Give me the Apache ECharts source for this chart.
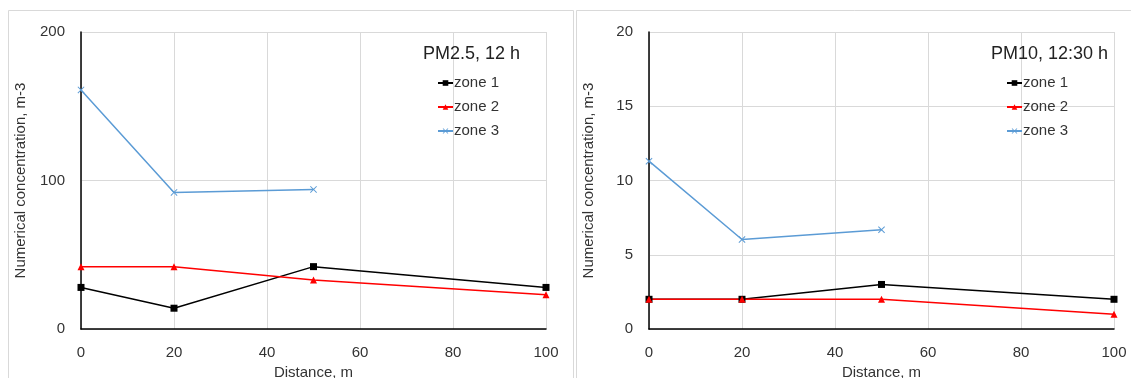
<!DOCTYPE html>
<html>
<head>
<meta charset="utf-8">
<script src="https://cdn.jsdelivr.net/npm/echarts@6/dist/echarts.min.js"></script>
<style>html,body{margin:0;padding:0;background:#fff;}#c{width:1131px;height:378px;}</style>
</head>
<body>
<div id="c"></div>
<script>
var distances = [0, 20, 50, 100];
var pm25Zone1 = [28, 14, 42, 28];
var pm25Zone2 = [42, 42, 33, 23];
var pm25Zone3 = [161, 92, 94];
var pm10Zone1 = [2, 2, 3, 2];
var pm10Zone2 = [2, 2, 2, 1];
var pm10Zone3 = [11.3, 6.03, 6.68];
var seriesNames = ['zone 1', 'zone 2', 'zone 3'];
var titles = ['PM2.5, 12 h', 'PM10, 12:30 h'];

var FONT = 'Liberation Sans, Arial, sans-serif';
var TXT = '#333';
var colors = ['#000000', '#ff0000', '#5b9bd5'];
var xSym = 'path://M0,1L1,0L5,4L9,0L10,1L6,5L10,9L9,10L5,6L1,10L0,9L4,5Z';
var symbols = ['rect', 'triangle', xSym];
var symSizes = [7, 7, 7];

function pairs(vals) { return vals.map(function (v, i) { return [distances[i], v]; }); }

var grids = [
  {left: 81, top: 32, width: 465, height: 297, outerBoundsMode: 'none', containLabel: false},
  {left: 649, top: 32, width: 465, height: 297, outerBoundsMode: 'none', containLabel: false}
];

function xAxis(gi) {
  return {
    type: 'value', gridIndex: gi, min: 0, max: 100, interval: 20,
    name: 'Distance, m', nameLocation: 'middle', nameGap: 32,
    nameTextStyle: {fontFamily: FONT, fontSize: 15, color: TXT},
    axisLine: {show: true, lineStyle: {color: '#000', width: 1.5}},
    axisTick: {show: false},
    axisLabel: {fontFamily: FONT, fontSize: 15, color: TXT, margin: 16},
    splitLine: {show: true, lineStyle: {color: '#d9d9d9', width: 1}}
  };
}
function yAxis(gi, max, interval) {
  return {
    type: 'value', gridIndex: gi, min: 0, max: max, interval: interval,
    name: 'Numerical concentration, m-3', nameLocation: 'middle', nameGap: 53,
    nameTextStyle: {fontFamily: FONT, fontSize: 15, color: TXT},
    axisLine: {show: true, lineStyle: {color: '#000', width: 1.5}},
    axisTick: {show: false},
    axisLabel: {fontFamily: FONT, fontSize: 15, color: TXT, margin: 16},
    splitLine: {show: true, lineStyle: {color: '#d9d9d9', width: 1}}
  };
}

var data = [[pm25Zone1, pm25Zone2, pm25Zone3], [pm10Zone1, pm10Zone2, pm10Zone3]];
var series = [];
for (var g = 0; g < 2; g++) {
  for (var s = 0; s < 3; s++) {
    series.push({
      type: 'line', name: seriesNames[s], xAxisIndex: g, yAxisIndex: g,
      data: pairs(data[g][s]),
      symbol: symbols[s], symbolSize: symSizes[s],
      showAllSymbol: true,
      lineStyle: {color: colors[s], width: 1.5},
      itemStyle: {color: colors[s]},
      emphasis: {disabled: true},
      animation: false
    });
  }
}

function legend(left, gi) {
  return {
    orient: 'vertical', left: left, top: 75, padding: 0,
    data: seriesNames,
    itemWidth: 15, itemHeight: 7, itemGap: 8,
    textStyle: {fontFamily: FONT, fontSize: 15, color: TXT, lineHeight: 16, padding: [0, 0, 0, -4]},
    selectedMode: false,
    seriesIndex: gi === 0 ? [0, 1, 2] : [3, 4, 5]
  };
}

var chart = echarts.init(document.getElementById('c'), null, {renderer: 'canvas'});
chart.setOption({
  animation: false,
  backgroundColor: '#fff',
  grid: grids,
  xAxis: [xAxis(0), xAxis(1)],
  yAxis: [yAxis(0, 200, 100), yAxis(1, 20, 5)],
  title: [
    {text: titles[0], left: 423, top: 45, padding: 0, textStyle: {fontFamily: FONT, fontSize: 18, fontWeight: 'normal', color: '#222'}},
    {text: titles[1], left: 991, top: 45, padding: 0, textStyle: {fontFamily: FONT, fontSize: 18, fontWeight: 'normal', color: '#222'}}
  ],
  legend: [legend(437, 0), legend(1006, 1)],
  graphic: [
    {type: 'rect', shape: {x: 8.5, y: 10.5, width: 565, height: 400}, style: {fill: 'none', stroke: '#d9d9d9', lineWidth: 1}, silent: true, z: -1},
    {type: 'rect', shape: {x: 576.5, y: 10.5, width: 600, height: 400}, style: {fill: 'none', stroke: '#d9d9d9', lineWidth: 1}, silent: true, z: -1}
  ],
  series: series
});
</script>
</body>
</html>
